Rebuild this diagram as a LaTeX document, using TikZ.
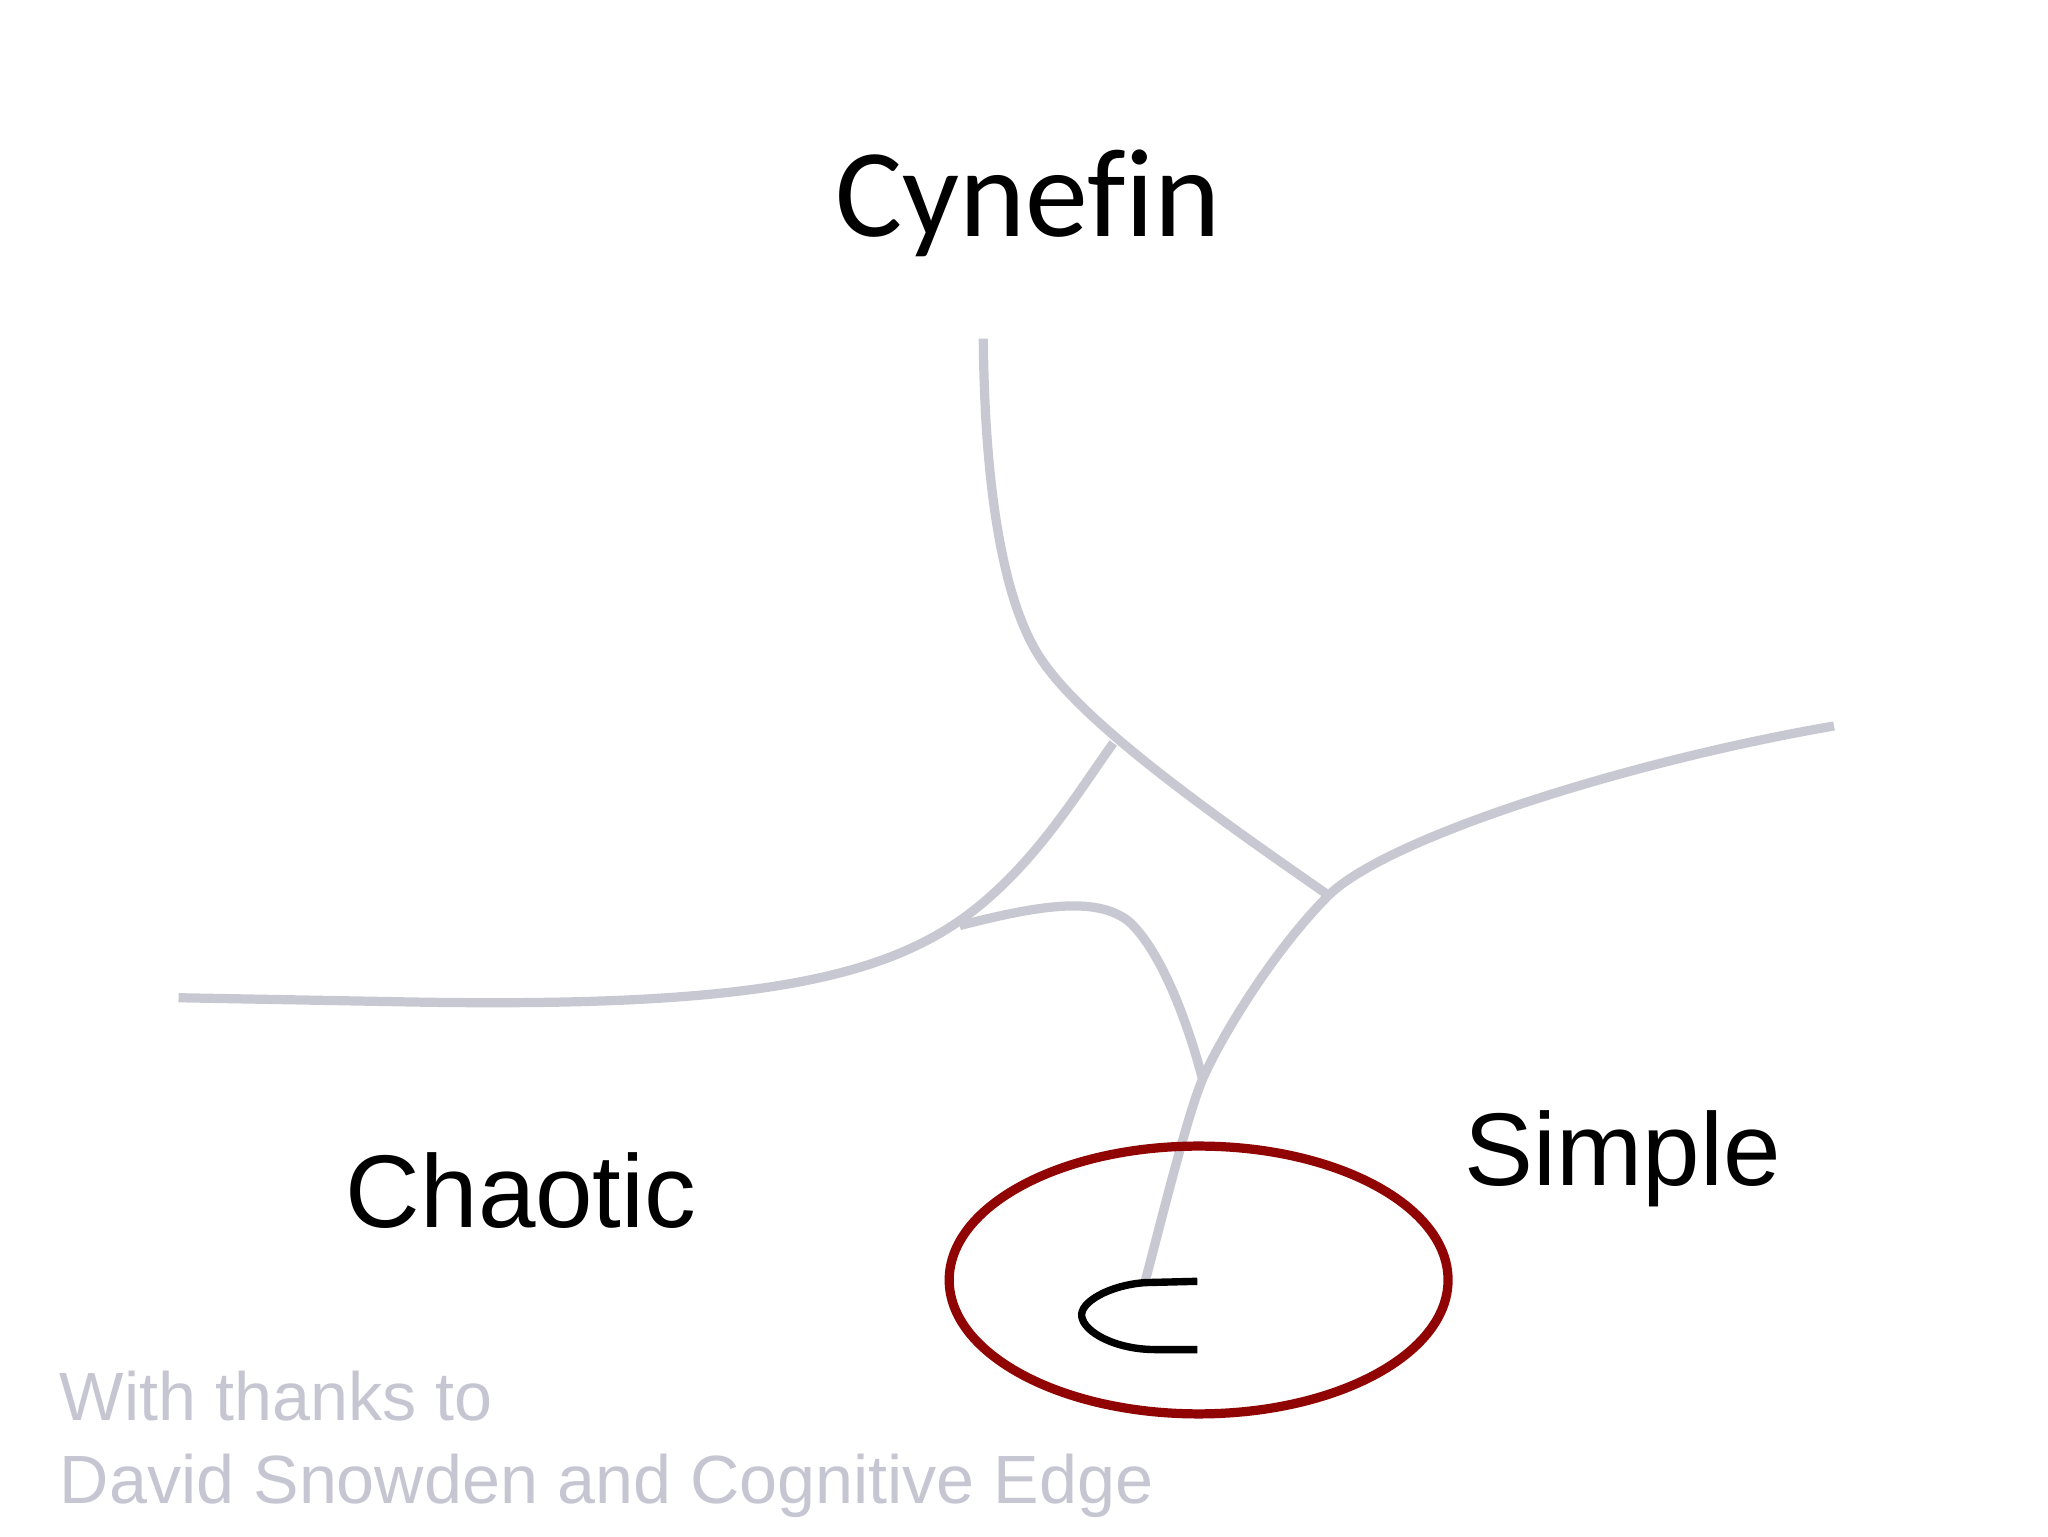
\documentclass[tikz,border=0pt]{standalone}
\usepackage{fontspec}
\setmainfont{Liberation Sans}
\newfontfamily\titlefont[Ligatures=NoCommon]{Carlito}
\usetikzlibrary{calc}

\definecolor{edgegrey}{RGB}{200,200,210}
\definecolor{thanksgrey}{RGB}{198,198,210}
\definecolor{ringred}{RGB}{145,4,4}

\begin{document}
\begin{tikzpicture}[
    border/.style={edgegrey, line width=2pt},
    zonelabel/.style={font=\fontsize{22.4}{26}\selectfont, anchor=base},
    credit/.style={thanksgrey, font=\fontsize{14.8}{17}\selectfont, anchor=base west, inner sep=0pt}
  ]
  \useasboundingbox (0,0) rectangle (15.6,11.7);

  % Coordinates
  \coordinate (Top) at (7.49,9.12);     % upper end
  \coordinate (Bend) at (7.95,6.65);    % bend of the top line
  \coordinate (Right) at (13.97,6.17);  % right end
  \coordinate (Left) at (1.36,4.10);    % left end
  \coordinate (JTop) at (8.48,6.04);    % left line meets top line
  \coordinate (JMid) at (10.12,4.88);   % top line meets right line
  \coordinate (JLow) at (9.16,3.48);    % inner curve meets right line
  \coordinate (JIn) at (7.31,4.65);     % inner curve start
  \coordinate (Cliff) at (8.72,1.93);   % top of the fold

  % Boundaries
  \draw[border] (Top) .. controls (7.50,7.90) and (7.66,7.05) .. (Bend)
    .. controls (8.30,6.15) and (9.30,5.45) .. (JMid);
  \draw[border] (Right) .. controls (12.40,5.90) and (10.57,5.32) .. (JMid)
    .. controls (9.70,4.46) and (9.30,3.80) .. (JLow)
    .. controls (9.04,3.20) and (8.82,2.30) .. (Cliff);
  \draw[border] (Left) -- (3.00,4.07) .. controls (5.50,4.02) and (6.60,4.20) .. (7.30,4.68)
    .. controls (7.85,5.06) and (8.20,5.65) .. (JTop);
  \draw[border] (JIn) .. controls (7.90,4.80) and (8.35,4.88) .. (8.60,4.68)
    .. controls (8.85,4.45) and (9.05,3.90) .. (JLow);

  % Fold
  \draw[black, line width=1.6pt] (9.12,1.94) -- (Cliff) .. controls (8.45,1.91) and (8.22,1.78) .. (8.24,1.67)
    .. controls (8.26,1.55) and (8.50,1.42) .. (8.80,1.42) -- (9.12,1.42);

  % Ring
  \draw[ringred, line width=2pt] (9.13,1.95) ellipse (1.90 and 1.02);

  % Labels
  \node[font=\titlefont\fontsize{27.3}{31}\selectfont, anchor=base] (title) at (7.83,9.90) {Cynefin};
  \node[zonelabel] (chaotic) at (3.97,2.35) {Chaotic};
  \node[zonelabel] (simple) at (12.36,2.67) {Simple};
  \node[credit] (thanks) at (0.45,0.88) {With thanks to};
  \node[credit] (source) at (0.45,0.25) {David Snowden and Cognitive Edge};

\end{tikzpicture}
\end{document}
